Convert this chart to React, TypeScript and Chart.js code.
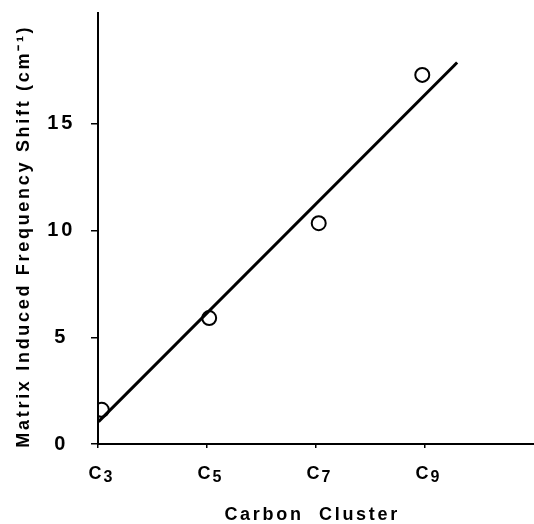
import React, { useEffect, useRef } from "react";
import { Chart, registerables } from "chart.js";

Chart.register(...registerables);

// ---- data ----
const clusterTicks = [3, 5, 7, 9];
const clusterLetters = ["C", "C", "C", "C"];
const clusterSubscripts = ["3", "5", "7", "9"];
const shiftTicks = [0, 5, 10, 15];

const measuredX = [3.07, 5.04, 7.05, 8.95];
const measuredShift = [1.6, 5.9, 10.35, 17.3];

const fitX = [3.01, 9.59];
const fitShift = [1.05, 17.88];

const xTitle = "Carbon  Cluster ";
const yTitle = "Matrix Induced Frequency Shift (cm\u207B\u00B9)  ";

const FONT = "'Liberation Sans', Arial, Helvetica, sans-serif";
const SPACING = "2.7px";

const spacingPlugin = {
  id: "letterSpacing",
  beforeUpdate(chart: any) {
    (chart.ctx as any).letterSpacing = SPACING;
  },
  beforeDraw(chart: any) {
    (chart.ctx as any).letterSpacing = SPACING;
  },
};

const subscriptLabels = {
  id: "subscriptLabels",
  afterDraw(chart: any) {
    const ctx = chart.ctx as CanvasRenderingContext2D;
    const xs = chart.scales.x;
    const base = chart.chartArea.bottom + 34.5;
    ctx.save();
    (ctx as any).letterSpacing = "0px";
    ctx.fillStyle = "#000";
    ctx.textBaseline = "alphabetic";
    ctx.textAlign = "left";
    clusterTicks.forEach((v, i) => {
      const px = xs.getPixelForValue(v);
      ctx.font = `bold 18px ${FONT}`;
      const left = px - 9.5;
      ctx.fillText(clusterLetters[i], left, base);
      const w = ctx.measureText(clusterLetters[i]).width;
      ctx.font = `bold 16px ${FONT}`;
      ctx.fillText(clusterSubscripts[i], left + w + 2, base + 3.5);
    });
    ctx.restore();
  },
};

export default function App() {
  const ref = useRef<HTMLCanvasElement | null>(null);

  useEffect(() => {
    if (!ref.current) return;
    const chart = new Chart(ref.current, {
      type: "scatter",
      data: {
        datasets: [
          {
            type: "line",
            data: fitX.map((x, i) => ({ x, y: fitShift[i] })),
            borderColor: "#000",
            borderWidth: 3,
            pointRadius: 0,
            fill: false,
            tension: 0,
            order: 2,
          } as any,
          {
            type: "scatter",
            data: measuredX.map((x, i) => ({ x, y: measuredShift[i] })),
            pointStyle: "circle",
            pointRadius: 7,
            borderWidth: 2,
            borderColor: "#000",
            backgroundColor: "rgba(0,0,0,0)",
            order: 1,
          } as any,
        ],
      },
      options: {
        animation: false,
        responsive: false,
        devicePixelRatio: 1,
        layout: { autoPadding: false, padding: { top: 13, left: 0, right: 0, bottom: 0 } },
        plugins: {
          legend: { display: false },
          tooltip: { enabled: false },
        },
        scales: {
          x: {
            type: "linear",
            min: 3,
            max: 11,
            afterBuildTicks: (scale: any) => {
              scale.ticks = clusterTicks.map((v) => ({ value: v }));
            },
            afterFit: (scale: any) => {
              scale.height = 80;
              scale.paddingLeft = 0;
              scale.paddingRight = 0;
            },
            ticks: { display: false },
            grid: {
              display: true,
              drawOnChartArea: false,
              drawTicks: true,
              tickLength: 4,
              color: "#000",
              lineWidth: 1.5,
            },
            border: { display: true, color: "#000", width: 2 },
            title: {
              display: true,
              text: xTitle,
              color: "#000",
              font: { family: FONT, size: 18, weight: "bold", lineHeight: 1 },
              padding: { top: 0, bottom: 0 },
            },
          },
          y: {
            type: "linear",
            min: 0,
            max: 20.2,
            afterBuildTicks: (scale: any) => {
              scale.ticks = shiftTicks.map((v) => ({ value: v }));
            },
            afterFit: (scale: any) => {
              scale.width = 98;
              scale.paddingTop = 0;
              scale.paddingBottom = 0;
            },
            ticks: {
              color: "#000",
              font: { family: FONT, size: 20, weight: "bold" },
              padding: 16,
              crossAlign: "center",
            },
            grid: {
              display: true,
              drawOnChartArea: false,
              drawTicks: true,
              tickLength: 7,
              color: "#000",
              lineWidth: 1.5,
            },
            border: { display: true, color: "#000", width: 2 },
            title: {
              display: true,
              text: yTitle,
              color: "#000",
              font: { family: FONT, size: 18, weight: "bold", lineHeight: 1 },
              padding: { top: 15, bottom: 0 },
            },
          },
        },
      },
      plugins: [spacingPlugin, subscriptLabels],
    });
    return () => chart.destroy();
  }, []);

  return (
    <div style={{ position: "absolute", left: 0, top: 0, width: 534, height: 524, background: "#fff" }}>
      <canvas ref={ref} width={534} height={524} />
    </div>
  );
}
